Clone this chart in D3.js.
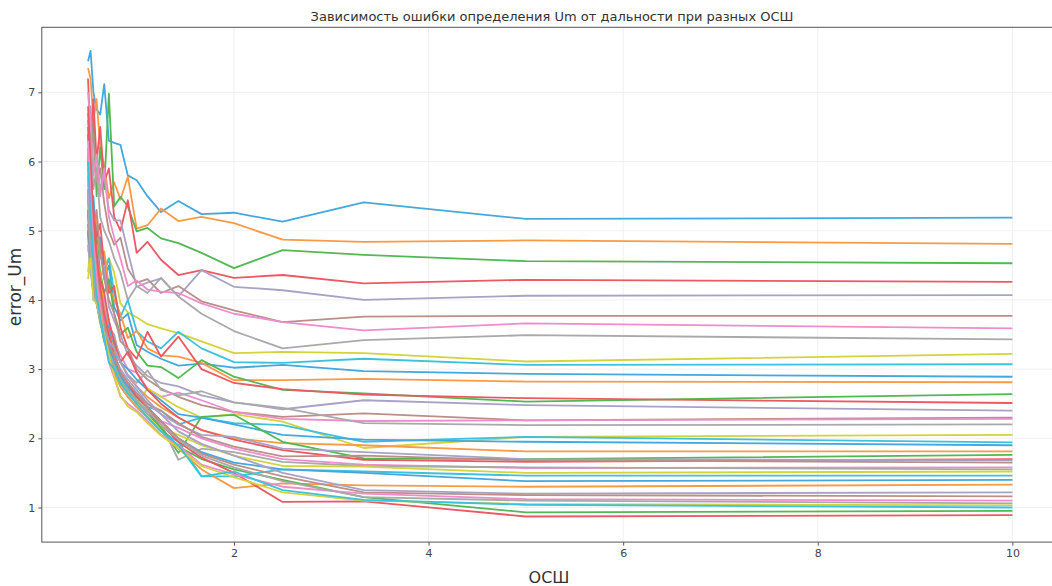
<!DOCTYPE html>
<html>
<head>
<meta charset="utf-8">
<script src="https://cdn.jsdelivr.net/npm/d3@7"></script>
<style>
  html, body { margin: 0; padding: 0; background: #ffffff; }
  svg { display: block; font-family: "DejaVu Sans", sans-serif; }
</style>
</head>
<body>
<svg id="chart" width="1052" height="586"></svg>
<script>
// SNR values (x axis)
const snr = [0.5, 0.5263, 0.5556, 0.5882, 0.625, 0.6667, 0.7143, 0.7692, 0.8333, 0.9091,
             1, 1.1111, 1.25, 1.4286, 1.6667, 2, 2.5, 3.3333, 5, 10];

// error_Um per range, one array per curve (same order as snr)
const err00 = [7.45, 7.60, 7.00, 6.75, 6.68, 7.12, 6.30, 6.27, 6.24, 5.80, 5.73, 5.50, 5.27, 5.43, 5.24, 5.26, 5.13, 5.41, 5.17, 5.19];
const err01 = [7.35, 7.20, 6.60, 6.90, 6.20, 5.95, 5.47, 5.70, 5.45, 5.78, 5.03, 5.08, 5.32, 5.14, 5.20, 5.11, 4.87, 4.84, 4.86, 4.81];
const err02 = [6.60, 6.00, 6.62, 5.50, 6.20, 5.60, 6.98, 5.35, 5.49, 5.35, 4.99, 5.04, 4.89, 4.82, 4.68, 4.46, 4.72, 4.65, 4.56, 4.53];
const err03 = [7.20, 6.30, 6.90, 6.00, 6.50, 5.70, 5.90, 5.20, 5.00, 5.44, 4.68, 4.84, 4.58, 4.36, 4.43, 4.32, 4.36, 4.24, 4.29, 4.26];
const err04 = [6.30, 6.80, 5.90, 6.10, 5.60, 5.80, 5.30, 5.15, 5.15, 4.70, 4.19, 4.25, 4.31, 4.05, 4.43, 4.19, 4.14, 4.00, 4.06, 4.07];
const err05 = [6.70, 6.20, 6.40, 5.70, 5.90, 5.40, 5.00, 4.80, 4.90, 4.45, 4.25, 4.30, 4.10, 4.20, 3.98, 3.85, 3.68, 3.76, 3.77, 3.77];
const err06 = [7.00, 6.50, 5.80, 6.10, 5.50, 5.90, 5.20, 4.90, 4.60, 4.20, 4.28, 4.15, 4.12, 4.10, 3.95, 3.80, 3.68, 3.56, 3.66, 3.59];
const err07 = [6.00, 6.40, 5.60, 5.90, 5.20, 5.00, 4.85, 4.60, 4.40, 4.00, 4.20, 4.10, 4.32, 4.05, 3.80, 3.55, 3.30, 3.42, 3.49, 3.43];
const err08 = [5.00, 4.40, 5.20, 4.70, 4.90, 4.50, 4.60, 4.40, 3.95, 3.82, 3.75, 3.65, 3.59, 3.52, 3.40, 3.23, 3.25, 3.23, 3.11, 3.22];
const err09 = [5.40, 6.00, 4.80, 5.10, 4.70, 4.40, 4.60, 4.10, 3.75, 4.00, 3.55, 3.40, 3.30, 3.54, 3.30, 3.10, 3.09, 3.15, 3.06, 3.07];
const err10 = [5.80, 5.20, 5.50, 4.80, 4.90, 4.30, 4.50, 3.90, 3.70, 3.80, 3.35, 3.25, 3.15, 3.05, 3.08, 3.02, 3.06, 2.97, 2.93, 2.89];
const err11 = [6.10, 5.40, 5.00, 5.20, 4.60, 4.70, 4.20, 4.00, 3.80, 3.45, 3.55, 3.30, 3.20, 3.18, 3.09, 2.84, 2.84, 2.86, 2.82, 2.81];
const err12 = [5.20, 5.60, 4.70, 4.90, 4.40, 4.10, 4.30, 3.80, 3.50, 3.60, 3.25, 3.05, 3.03, 2.87, 3.13, 2.89, 2.70, 2.65, 2.53, 2.64];
const err13 = [6.40, 5.80, 5.30, 4.90, 5.10, 4.50, 4.10, 4.20, 3.60, 3.30, 3.15, 3.54, 3.18, 3.47, 3.00, 2.80, 2.71, 2.63, 2.58, 2.51];
const err14 = [5.50, 4.90, 5.10, 4.60, 4.30, 4.50, 3.90, 3.70, 3.50, 3.20, 3.05, 2.90, 2.80, 2.75, 2.62, 2.52, 2.42, 2.55, 2.48, 2.40];
const err15 = [6.20, 5.50, 5.00, 5.30, 4.70, 4.30, 4.00, 3.80, 3.40, 3.30, 3.00, 2.85, 2.72, 2.60, 2.48, 2.38, 2.31, 2.36, 2.26, 2.30];
const err16 = [5.70, 5.20, 4.60, 4.80, 4.20, 4.00, 3.70, 3.40, 3.20, 3.00, 2.95, 2.72, 2.60, 2.66, 2.55, 2.38, 2.28, 2.25, 2.26, 2.28];
const err17 = [5.30, 4.80, 5.00, 4.40, 4.10, 3.90, 3.60, 3.50, 3.10, 2.92, 2.80, 2.98, 2.70, 2.62, 2.68, 2.52, 2.44, 2.22, 2.19, 2.20];
const err18 = [4.70, 5.10, 4.50, 4.00, 4.20, 3.80, 3.50, 3.30, 2.90, 2.70, 2.50, 2.72, 2.60, 2.45, 2.30, 2.35, 2.24, 1.86, 2.02, 2.05];
const err19 = [5.60, 5.00, 4.40, 4.50, 4.00, 3.70, 3.20, 3.40, 2.80, 2.75, 2.60, 2.45, 2.40, 2.20, 2.30, 2.22, 2.19, 1.95, 2.02, 1.94];
const err20 = [4.90, 5.30, 4.20, 4.40, 3.90, 3.70, 3.60, 3.30, 3.10, 3.00, 2.85, 2.70, 2.55, 2.35, 2.30, 2.20, 2.05, 1.98, 1.95, 1.90];
const err21 = [5.90, 5.10, 4.70, 4.20, 4.40, 3.80, 3.50, 3.30, 3.10, 2.90, 2.75, 2.60, 2.45, 2.30, 2.12, 2.00, 1.93, 1.90, 1.81, 1.81];
const err22 = [5.00, 4.60, 4.80, 4.10, 3.80, 3.60, 3.30, 3.05, 2.90, 2.70, 2.55, 2.35, 2.15, 1.79, 2.31, 2.34, 1.95, 1.71, 1.70, 1.76];
const err23 = [6.50, 5.90, 5.20, 4.50, 4.30, 4.10, 3.70, 3.40, 3.10, 3.25, 2.95, 2.70, 2.50, 2.30, 2.12, 1.98, 1.83, 1.69, 1.66, 1.70];
const err24 = [5.60, 4.90, 4.30, 4.60, 3.90, 3.70, 3.50, 3.20, 3.00, 2.85, 2.70, 2.50, 2.35, 2.20, 2.05, 2.02, 1.85, 1.80, 1.70, 1.68];
const err25 = [6.00, 5.40, 4.90, 4.50, 4.00, 3.70, 3.40, 3.15, 2.95, 2.80, 2.65, 2.50, 2.40, 2.22, 2.02, 1.88, 1.74, 1.75, 1.68, 1.65];
const err26 = [5.80, 5.00, 4.70, 4.20, 3.80, 3.50, 3.30, 3.10, 2.90, 2.75, 2.60, 2.45, 2.25, 2.15, 2.00, 1.85, 1.70, 1.62, 1.57, 1.58];
const err27 = [4.90, 4.50, 4.10, 3.95, 3.70, 3.45, 3.25, 3.00, 2.85, 2.70, 2.55, 2.35, 2.20, 1.69, 1.85, 1.80, 1.66, 1.60, 1.58, 1.55];
const err28 = [4.40, 4.80, 4.20, 3.95, 3.65, 3.50, 3.25, 3.05, 2.80, 2.65, 2.50, 2.30, 2.15, 2.05, 1.90, 1.75, 1.60, 1.59, 1.50, 1.52];
const err29 = [5.30, 4.70, 4.00, 4.10, 3.70, 3.40, 3.45, 2.95, 2.75, 2.60, 2.45, 2.30, 2.10, 1.95, 1.45, 1.45, 1.55, 1.52, 1.46, 1.46];
const err30 = [5.10, 4.50, 4.10, 4.00, 3.70, 3.50, 3.30, 3.10, 2.90, 2.75, 2.60, 2.45, 2.25, 2.00, 1.80, 1.65, 1.55, 1.50, 1.38, 1.40];
const err31 = [6.20, 5.60, 4.80, 4.30, 3.90, 3.55, 3.20, 2.95, 2.75, 2.60, 2.45, 2.30, 2.10, 1.85, 1.55, 1.28, 1.35, 1.32, 1.30, 1.33];
const err32 = [5.30, 4.80, 4.40, 3.95, 3.70, 3.40, 3.20, 3.05, 2.85, 2.70, 2.55, 2.40, 2.15, 1.88, 1.70, 1.55, 1.40, 1.15, 0.93, 0.95];
const err33 = [6.80, 6.00, 5.20, 4.70, 4.20, 3.80, 3.50, 3.20, 2.95, 2.80, 2.60, 2.45, 2.20, 1.95, 1.72, 1.50, 1.08, 1.09, 0.87, 0.89];
const err34 = [4.80, 4.40, 4.10, 3.95, 3.75, 3.55, 3.40, 3.30, 3.10, 2.90, 2.75, 2.55, 2.35, 2.10, 1.92, 1.75, 1.50, 1.25, 1.20, 1.22];
const err35 = [5.20, 4.60, 4.20, 3.95, 3.75, 3.50, 3.35, 3.20, 2.95, 2.80, 2.65, 2.45, 2.25, 2.00, 1.78, 1.62, 1.45, 1.22, 1.18, 1.16];
const err36 = [6.30, 5.50, 4.80, 4.30, 3.90, 3.45, 3.10, 2.88, 2.60, 2.50, 2.40, 2.25, 2.05, 1.90, 1.62, 1.48, 1.30, 1.20, 1.12, 1.10];
const err37 = [5.40, 4.70, 4.40, 3.95, 3.70, 3.45, 3.25, 3.05, 2.85, 2.70, 2.55, 2.40, 2.20, 1.98, 1.75, 1.58, 1.38, 1.15, 1.10, 1.06];
const err38 = [4.30, 4.60, 4.00, 3.95, 3.75, 3.50, 3.20, 2.90, 2.62, 2.46, 2.38, 2.22, 2.04, 1.86, 1.60, 1.44, 1.22, 1.10, 1.05, 1.03];
const err39 = [6.00, 5.20, 4.60, 4.05, 3.75, 3.45, 3.10, 3.00, 2.80, 2.65, 2.50, 2.30, 2.10, 1.90, 1.45, 1.52, 1.25, 1.11, 1.04, 1.00];

const curves = [err00, err01, err02, err03, err04, err05, err06, err07, err08, err09,
                err10, err11, err12, err13, err14, err15, err16, err17, err18, err19,
                err20, err21, err22, err23, err24, err25, err26, err27, err28, err29,
                err30, err31, err32, err33, err34, err35, err36, err37, err38, err39];

// axis ticks
const xTicks = [2, 4, 6, 8, 10];
const yTicks = [1, 2, 3, 4, 5, 6, 7];

// colour cycle for the curves
const palette = ["#43a8de", "#fb9a44", "#52b853", "#ec5962", "#a7a3c6",
                 "#ba8f88", "#ee8ccc", "#a9a9a9", "#d3d33c", "#3bc2dc"];

const svg = d3.select("#chart");
const plot = { left: 41.8, right: 1058.6, top: 27.3, bottom: 542.1 };

const x = d3.scaleLinear().domain([0.025, 10.475]).range([plot.left, plot.right]);
const y = d3.scaleLinear().domain([0.5, 7.94]).range([plot.bottom, plot.top]);

svg.append("defs").append("clipPath").attr("id", "plotArea")
  .append("rect")
  .attr("x", plot.left).attr("y", plot.top)
  .attr("width", plot.right - plot.left).attr("height", plot.bottom - plot.top);

// grid
const grid = svg.append("g").attr("class", "grid");
grid.selectAll("line.gx").data(xTicks).join("line")
  .attr("x1", d => x(d)).attr("x2", d => x(d))
  .attr("y1", plot.top).attr("y2", plot.bottom)
  .attr("stroke", "#eeeeee").attr("stroke-width", 0.9);
grid.selectAll("line.gy").data(yTicks).join("line")
  .attr("x1", plot.left).attr("x2", plot.right)
  .attr("y1", d => y(d)).attr("y2", d => y(d))
  .attr("stroke", "#eeeeee").attr("stroke-width", 0.9);

// curves
const line = d3.line()
  .x((d, i) => x(snr[i]))
  .y(d => y(d));

svg.append("g").attr("clip-path", "url(#plotArea)")
  .selectAll("path").data(curves).join("path")
  .attr("d", d => line(d))
  .attr("fill", "none")
  .attr("stroke", (d, i) => palette[i % palette.length])
  .attr("stroke-width", 1.8)
  .attr("stroke-linejoin", "round");

// frame
svg.append("rect")
  .attr("x", plot.left).attr("y", plot.top)
  .attr("width", plot.right - plot.left).attr("height", plot.bottom - plot.top)
  .attr("fill", "none").attr("stroke", "#555").attr("stroke-width", 1);

// axes
const xAxis = svg.append("g")
  .attr("transform", `translate(0,${plot.bottom})`)
  .call(d3.axisBottom(x).tickValues(xTicks).tickFormat(d3.format("d")).tickSize(3.5).tickPadding(3.5));
const yAxis = svg.append("g")
  .attr("transform", `translate(${plot.left},0)`)
  .call(d3.axisLeft(y).tickValues(yTicks).tickFormat(d3.format("d")).tickSize(3.5).tickPadding(3));

[xAxis, yAxis].forEach(a => {
  a.select(".domain").remove();
  a.selectAll(".tick line").attr("stroke", "#555");
  a.selectAll(".tick text")
    .attr("fill", "#444")
    .style("font-family", "DejaVu Sans, sans-serif")
    .style("font-size", "11px");
});

// title and labels
svg.append("text")
  .attr("x", 552).attr("y", 21)
  .attr("text-anchor", "middle")
  .attr("fill", "#333")
  .style("font-size", "13px")
  .text("Зависимость ошибки определения Um от дальности при разных ОСШ");

svg.append("text")
  .attr("x", 549).attr("y", 583)
  .attr("text-anchor", "middle")
  .attr("fill", "#333")
  .style("font-size", "16px")
  .text("ОСШ");

svg.append("text")
  .attr("transform", "translate(21,287) rotate(-90)")
  .attr("text-anchor", "middle")
  .attr("fill", "#333")
  .style("font-size", "17px")
  .text("error_Um");
</script>
</body>
</html>
